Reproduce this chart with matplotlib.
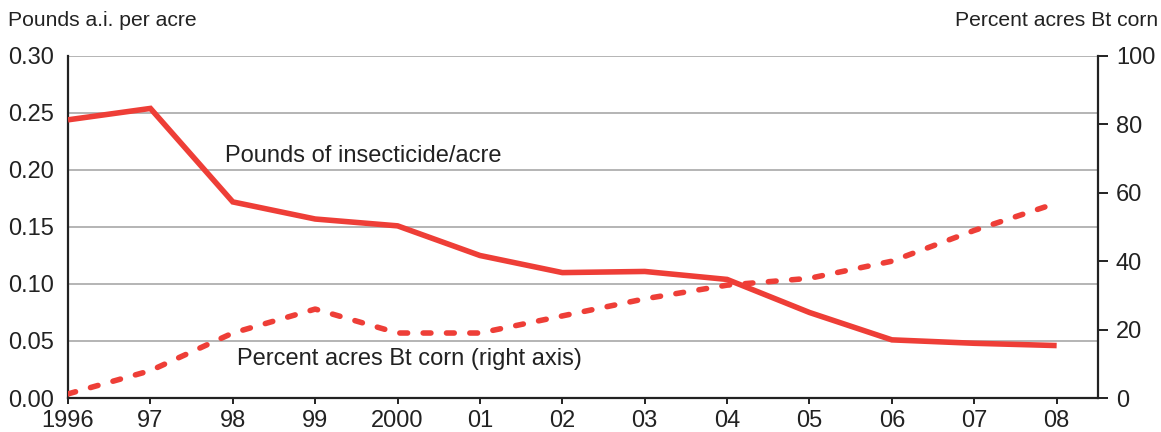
import numpy as np
import matplotlib.pyplot as plt

plt.rcParams["font.family"] = ["Liberation Sans", "DejaVu Sans"]

years = np.arange(1996, 2009)
year_labels = ["1996", "97", "98", "99", "2000", "01", "02", "03", "04",
               "05", "06", "07", "08"]
pounds = [0.244, 0.254, 0.172, 0.157, 0.151, 0.125, 0.110, 0.111, 0.104,
          0.075, 0.051, 0.048, 0.046]
bt_pct = [1.2, 8, 19, 26, 19, 19, 24, 29, 33, 35, 40, 49, 57]

red = "#ee3e37"
ink = "#222222"

fig = plt.figure(figsize=(11.61, 4.32), dpi=100)
ax = fig.add_axes([0.0586, 0.0787, 0.887, 0.7917])
ax2 = ax.twinx()

ax.plot(years, pounds, color=red, lw=4.0, solid_capstyle="butt",
        solid_joinstyle="miter", zorder=3)
ax2.plot(years, bt_pct, color=red, lw=4.0, linestyle=(0, (1.4, 2.8)),
         dash_capstyle="round", zorder=3)

ax.set_xlim(1996, 2008.5)
ax.set_ylim(0, 0.30)
ax2.set_ylim(0, 100)

ax.set_yticks(np.arange(0, 0.31, 0.05))
ax.set_yticklabels([f"{v:.2f}" for v in np.arange(0, 0.31, 0.05)])
ax2.set_yticks(np.arange(0, 101, 20))
ax.set_xticks(years)
ax.set_xticklabels(year_labels)

ax.yaxis.grid(True, color="#a0a0a0", lw=1.1)
ax.set_axisbelow(True)

for a in (ax, ax2):
    a.spines["top"].set_visible(False)
ax.spines["right"].set_visible(False)
ax2.spines["left"].set_visible(False)
ax2.spines["bottom"].set_visible(False)
for sp in (ax.spines["left"], ax.spines["bottom"], ax2.spines["right"]):
    sp.set_linewidth(1.6)
    sp.set_color(ink)

ax.tick_params(axis="y", length=0, pad=10, labelsize=17, colors=ink)
ax.tick_params(axis="x", length=4.5, width=1.4, pad=4, labelsize=17,
               colors=ink)
ax2.tick_params(axis="y", length=7, width=1.4, pad=6, labelsize=17,
                colors=ink)

ax.text(1997.9, 0.212, "Pounds of insecticide/acre", fontsize=17,
        color=ink, va="center", ha="left")
ax.text(1998.05, 0.034, "Percent acres Bt corn (right axis)", fontsize=17,
        color=ink, va="center", ha="left")

fig.text(8 / 1161, 1 - 20 / 432, "Pounds a.i. per acre", fontsize=15.2,
         color=ink, va="center", ha="left")
fig.text(1158 / 1161, 1 - 20 / 432, "Percent acres Bt corn", fontsize=15.2,
         color=ink, va="center", ha="right")

fig.savefig("out.png", dpi=100)
